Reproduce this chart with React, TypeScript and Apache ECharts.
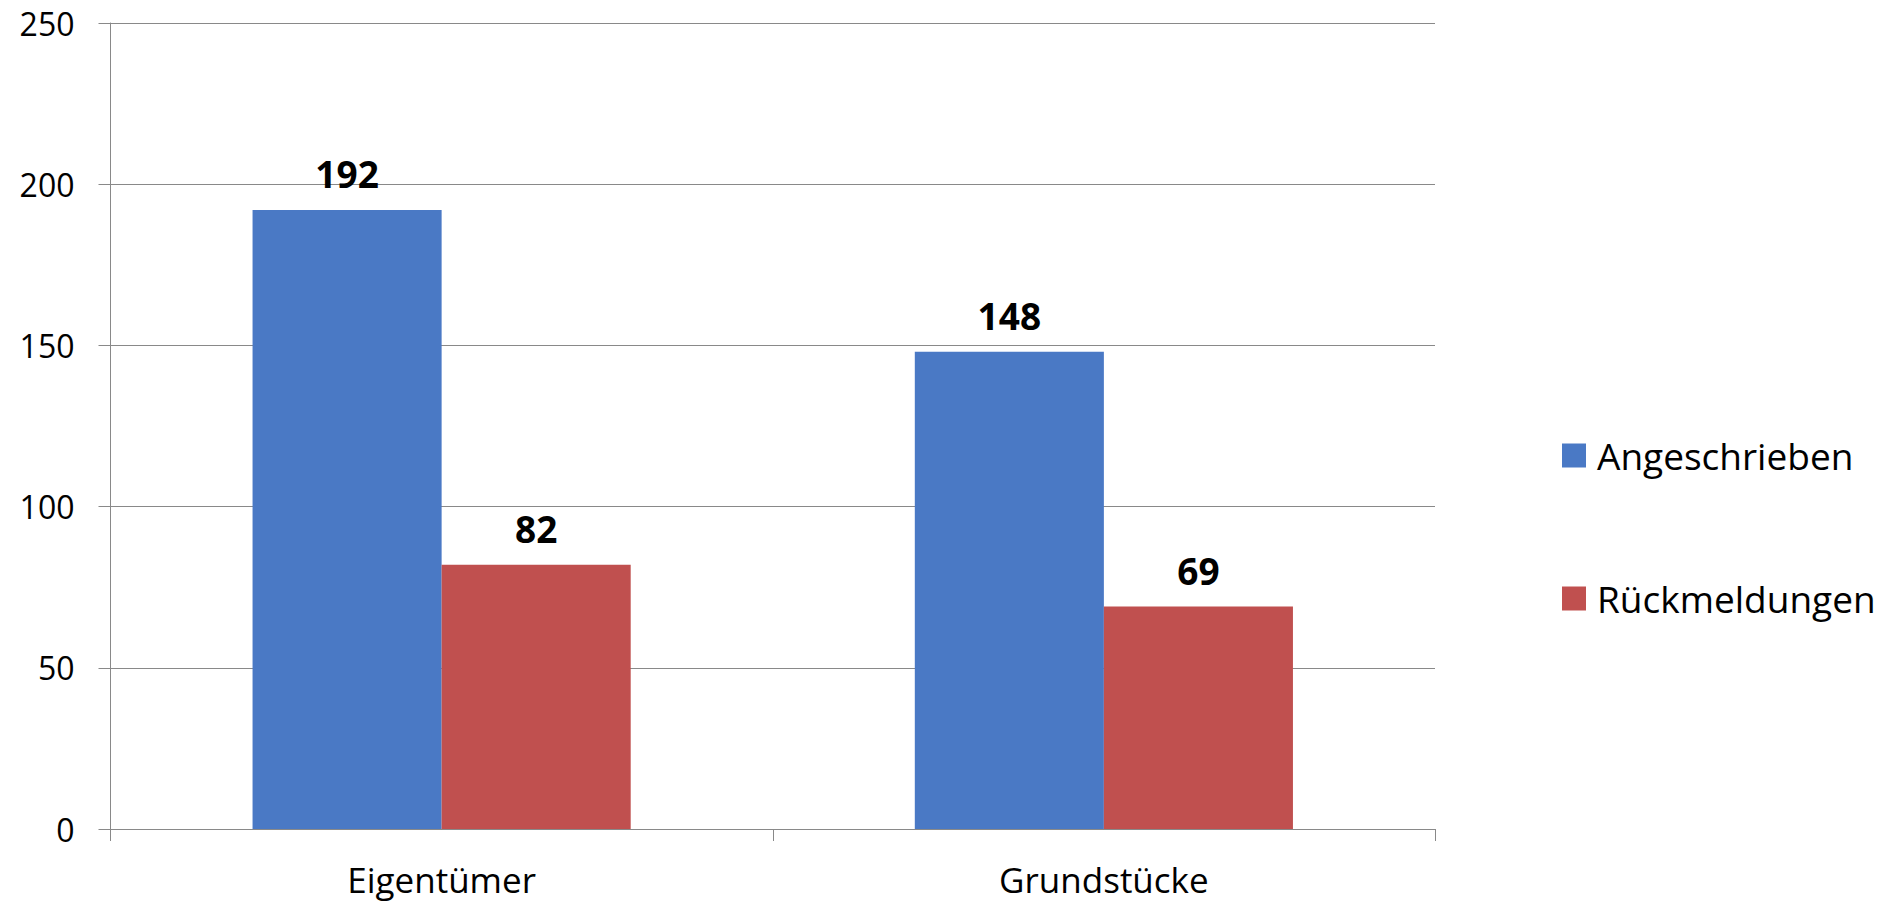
import React, { useEffect, useRef } from "react";
import * as echarts from "echarts";

const categories = ["Eigentümer", "Grundstücke"];
const seriesNames = ["Angeschrieben", "Rückmeldungen"];
const angeschrieben = [192, 148];
const rueckmeldungen = [82, 69];
const yTicks = { min: 0, max: 250, interval: 50 };

const FONT = "'Open Sans', sans-serif";
const AXIS_COLOR = "#898989";

export default function App() {
  const ref = useRef<HTMLDivElement>(null);
  useEffect(() => {
    document.body.style.margin = "0";
    document.body.style.overflow = "hidden";
    const chart = echarts.init(ref.current!, null, { renderer: "svg" });
    const labelStyle = {
      show: true,
      position: "top" as const,
      distance: 18,
      fontFamily: FONT,
      fontWeight: "bold" as const,
      fontSize: 37,
      color: "#000",
    };
    chart.setOption({
      animation: false,
      backgroundColor: "#fff",
      textStyle: { fontFamily: FONT },
      grid: { left: 110.5, right: 448, top: 23, bottom: 75, containLabel: false },
      legend: {
        orient: "vertical",
        left: 1557,
        top: 432,
        icon: "rect",
        itemWidth: 24,
        itemHeight: 24,
        itemGap: 106,
        textStyle: { fontFamily: FONT, fontSize: 37, color: "#000", padding: [0, 0, 0, 6] },
        data: seriesNames,
      },
      xAxis: {
        type: "category",
        data: categories,
        axisLine: { show: true, lineStyle: { color: AXIS_COLOR, width: 1 } },
        axisTick: { show: true, length: 12, lineStyle: { color: AXIS_COLOR } },
        axisLabel: { fontFamily: FONT, fontSize: 35, lineHeight: 35, color: "#000", margin: 33 },
      },
      yAxis: {
        type: "value",
        min: yTicks.min,
        max: yTicks.max,
        interval: yTicks.interval,
        axisLine: { show: true, lineStyle: { color: AXIS_COLOR, width: 1 } },
        axisTick: { show: true, length: 12, lineStyle: { color: AXIS_COLOR } },
        splitLine: { show: true, lineStyle: { color: AXIS_COLOR, width: 1 } },
        axisLabel: { fontFamily: FONT, fontSize: 32, color: "#000", margin: 36 },
      },
      series: [
        {
          name: seriesNames[0],
          type: "bar",
          data: angeschrieben,
          barGap: "0%",
          barCategoryGap: "42.9%",
          itemStyle: { color: "#4A79C5" },
          label: labelStyle,
        },
        {
          name: seriesNames[1],
          type: "bar",
          data: rueckmeldungen,
          itemStyle: { color: "#C0504F" },
          label: labelStyle,
        },
      ],
    });
    return () => chart.dispose();
  }, []);
  return <div ref={ref} style={{ width: 1883, height: 904 }} />;
}
